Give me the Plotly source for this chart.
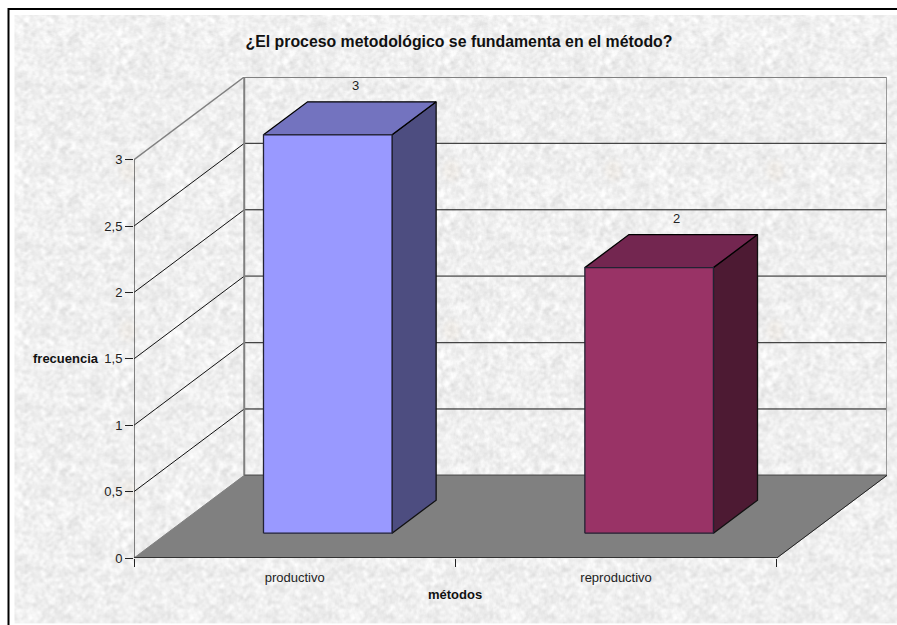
import base64, struct, zlib
import numpy as np
import plotly.graph_objects as go

# ---- data ----
categories = ["productivo", "reproductivo"]
values = [3, 2]
value_labels = ["3", "2"]
y_ticks = [0, 0.5, 1, 1.5, 2, 2.5, 3]
y_tick_labels = ["0", "0,5", "1", "1,5", "2", "2,5", "3"]
title_text = "¿El proceso metodológico se fundamenta en el método?"
x_title = "métodos"
y_title = "frecuencia"
front_colors = ["#9999FF", "#993366"]
top_colors = ["#7373BF", "#732650"]
side_colors = ["#4D4D80", "#4D1A33"]
back_grid_styles = {0.5: ("#111111", 1), 1: ("#444444", 1.2), 1.5: ("#777777", 1.8),
                    2: ("#111111", 1), 2.5: ("#444444", 1.2), 3: ("#808080", 2)}

# ---- figure / oblique projection settings ----
W, H = 897, 625
L, R, T, B = 134.4, 10.4, 77.0, 67.3
DX = 110.2 / 321.25   # depth offset, category units
DY = 82.6 / 132.73    # depth offset, value units
NC = len(categories)
YMAX = max(y_ticks)
BAR_W = 0.4
D0, D1 = 0.3, 0.7


def proj(x, v, d):
    return x + d * DX, v + d * DY


def poly(points, fill=None, line="#000000", width=1, close=True):
    pts = [proj(*p) for p in points]
    if close:
        pts.append(pts[0])
    return go.Scatter(
        x=[p[0] for p in pts], y=[p[1] for p in pts], mode="lines",
        fill="toself" if fill else None, fillcolor=fill,
        line=dict(color=line, width=width), hoverinfo="skip", showlegend=False,
    )


# ---- page backdrop: white margin, black frame, paper texture (decorative, deterministic) ----
def texture(w, h):
    yy, xx = np.mgrid[0:h, 0:w]
    tile = 161
    u, v = (xx % tile).astype(float), (yy % tile).astype(float)
    n = np.sin(u * 127.1 + v * 311.7) * 43758.5453
    n = n - np.floor(n)
    n = np.sin(n * 91.7 + u * 3.11 + v * 7.77) * 24634.6345
    n = n - np.floor(n)
    out = np.zeros((h, w))
    for r, amp in ((1, 1.0), (2, 1.0), (6, 0.2)):
        a = n.copy()
        for ax in (0, 1):
            a = sum(np.roll(a, s, axis=ax) for s in range(-r, r + 1)) / (2 * r + 1)
        out += amp * (a - a.mean()) / a.std()
    out /= out.std()
    g = np.clip(240 + 5.5 * out, 214, 255)
    rgb = np.stack([g, g, g], axis=-1)
    for px_, py_ in [(128 + 161.6 * i, 170 + 160 * j) for i in range(5) for j in range(3)]:
        d2 = ((xx - px_) / 9.0) ** 2 + ((yy - py_) / 11.0) ** 2
        blot = np.exp(-d2 * d2)
        rgb[..., 1] -= 3 * blot
        rgb[..., 2] -= 7 * blot
    rgb[:15, :] = 255
    rgb[:, :15] = 255
    rgb[623:, :] = 255
    rgb[8:10, 8:] = 0
    rgb[8:, 8:10] = 0
    return np.clip(rgb, 0, 255).astype(np.uint8)


def png_uri(a):
    h, w = a.shape[:2]
    raw = b"".join(b"\x00" + a[i].tobytes() for i in range(h))

    def chunk(t, d):
        return struct.pack(">I", len(d)) + t + d + struct.pack(">I", zlib.crc32(t + d) & 0xFFFFFFFF)

    data = (b"\x89PNG\r\n\x1a\n" + chunk(b"IHDR", struct.pack(">IIBBBBB", w, h, 8, 2, 0, 0, 0))
            + chunk(b"IDAT", zlib.compress(raw, 9)) + chunk(b"IEND", b""))
    return "data:image/png;base64," + base64.b64encode(data).decode()


PW, PH = W - L - R, H - T - B

fig = go.Figure()

# walls: gridlines on the side and back walls
for t in y_ticks:
    if t == 0:
        continue
    col = "#808080" if t == YMAX else "#111111"
    wid = 1.5 if t == YMAX else 1
    fig.add_trace(poly([(0, t, 0), (0, t, 1)], line=col, width=wid, close=False))
    bc, bw = back_grid_styles[t]
    fig.add_trace(poly([(0, t, 1), (NC, t, 1)], line=bc, width=bw, close=False))
# back wall frame
fig.add_trace(poly([(0, 0, 1), (0, YMAX, 1)], line="#808080", width=2, close=False))
fig.add_trace(poly([(NC, 0, 1), (NC, YMAX, 1)], line="#999999", width=2, close=False))
# floor
fig.add_trace(poly([(0, 0, 0), (NC, 0, 0), (NC, 0, 1), (0, 0, 1)], fill="#808080", line="#808080", width=1))
fig.add_trace(poly([(0, 0, 1), (NC, 0, 1)], line="#606060", width=1.5, close=False))
fig.add_trace(poly([(NC, 0, 0), (NC, 0, 1)], line="#222222", width=1, close=False))

# bars
for i, v in enumerate(values):
    x0, x1 = i + 0.5 - BAR_W / 2, i + 0.5 + BAR_W / 2
    fig.add_trace(poly([(x1, 0, D0), (x1, 0, D1), (x1, v, D1), (x1, v, D0)], fill=side_colors[i], line="#111111", width=1.3))
    fig.add_trace(poly([(x0, v, D0), (x1, v, D0), (x1, v, D1), (x0, v, D1)], fill=top_colors[i], line="#000000", width=1.3))
    fig.add_trace(poly([(x0, 0, D0), (x1, 0, D0), (x1, v, D0), (x0, v, D0)], fill=front_colors[i], line="#222233", width=1.3))

# front axis lines
fig.add_trace(poly([(0, 0, 0), (0, YMAX, 0)], line="#333333", width=1.2, close=False))
fig.add_trace(poly([(0, 0, 0), (NC, 0, 0)], line="#333333", width=2, close=False))

FONT = "Liberation Sans"
annotations = []
for i, (v, s) in enumerate(zip(values, value_labels)):
    ax, ay = proj(i + 0.5, v, 0.5)
    annotations.append(dict(x=ax, y=ay, text=s, showarrow=False, xshift=5.5, yshift=33,
                            font=dict(family=FONT, size=13, color="#222222")))
annotations.append(dict(x=NC / 2, y=0, text=f"<b>{x_title}</b>", showarrow=False, yshift=-36,
                        font=dict(family=FONT, size=13, color="#111111")))
annotations.append(dict(x=0, y=1.5, text=f"<b>{y_title}</b>", showarrow=False, xanchor="right", xshift=-33.5,
                        font=dict(family=FONT, size=13, color="#111111")))

fig.update_layout(
    width=W, height=H, autosize=False,
    margin=dict(l=L, r=R, t=T, b=B, pad=0),
    paper_bgcolor="white", plot_bgcolor="rgba(0,0,0,0)", showlegend=False,
    font=dict(family=FONT, size=13, color="#222222"),
    title=dict(text=f"<b>{title_text}</b>", x=459 / W, xref="container", xanchor="center",
               y=1 - 41 / H, yref="container", yanchor="middle",
               font=dict(family=FONT, size=15.85, color="#111111")),
    xaxis=dict(range=[0, NC + DX], showgrid=False, zeroline=False, showline=False,
               tickmode="array", tickvals=[i + 0.5 for i in range(NC)], ticktext=categories,
               ticks="outside", ticklen=7, tickcolor="rgba(0,0,0,0)", tickfont=dict(size=13),
               minor=dict(tickmode="array", tickvals=list(range(NC + 1)), ticks="outside",
                          ticklen=8, tickcolor="#222222", tickwidth=1, showgrid=False)),
    yaxis=dict(range=[0, YMAX + DY], showgrid=False, zeroline=False, showline=False,
               tickmode="array", tickvals=y_ticks, ticktext=y_tick_labels,
               ticks="outside", ticklen=8, tickcolor="#222222", tickwidth=1, tickfont=dict(size=13)),
    annotations=annotations,
    images=[dict(source=png_uri(texture(W, H)), xref="paper", yref="paper",
                 x=-L / PW, y=1 + T / PH, sizex=W / PW, sizey=H / PH,
                 xanchor="left", yanchor="top", sizing="stretch", layer="below")],
)

fig.write_html("out.html", include_plotlyjs=True, config=dict(displayModeBar=False),
               post_script="document.body.style.margin='0';document.documentElement.style.overflow='hidden';")
